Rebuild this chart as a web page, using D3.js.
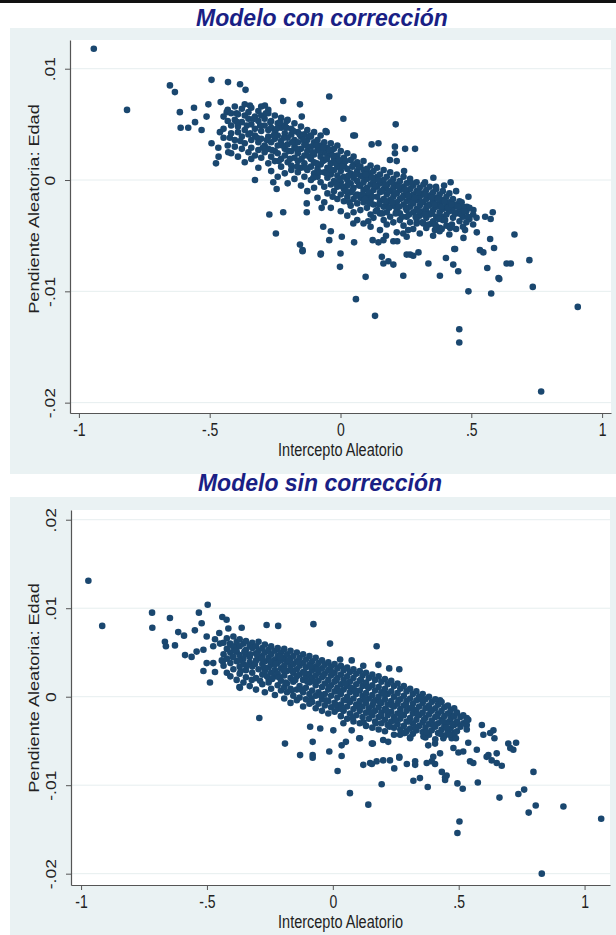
<!DOCTYPE html>
<html><head><meta charset="utf-8">
<script src="https://cdn.jsdelivr.net/npm/d3@7"></script>
<style>body{margin:0;background:#fff}svg{display:block}</style>
</head><body><svg id="c" width="616" height="935"></svg>
<script>
const titles = ["Modelo con corrección", "Modelo sin corrección"];
const xAxisTitle = "Intercepto Aleatorio";
const yAxisTitle = "Pendiente Aleatoria: Edad";
const xTicks = [-1, -0.5, 0, 0.5, 1];
const xTickLabels = ["-1", "-.5", "0", ".5", "1"];
const yTicksCon = [-0.02, -0.01, 0, 0.01];
const yTickLabelsCon = ["-.02", "-.01", "0", ".01"];
const yTicksSin = [-0.02, -0.01, 0, 0.01, 0.02];
const yTickLabelsSin = ["-.02", "-.01", "0", ".01", ".02"];

// Modelo con corrección: scattered points [intercepto, pendiente]
const conSpread = [
[-0.943,0.0118],[-0.816,0.0063],[-0.652,0.0085],[-0.633,0.0079],[-0.493,0.0090],[-0.430,0.0088],[-0.384,0.0086],[-0.363,0.0081],
[-0.614,0.0061],[-0.560,0.0065],[-0.505,0.0068],[-0.458,0.0070],[-0.611,0.0047],[-0.582,0.0047],[-0.556,0.0052],[-0.531,0.0045],
[-0.512,0.0057],[-0.493,0.0033],[-0.467,0.0029],[-0.476,0.0015],[-0.466,0.0021],[-0.429,0.0025],[-0.423,0.0038],[-0.461,0.0043],
[-0.435,0.0061],[-0.397,0.0060],[-0.346,0.0067],[-0.289,0.0067],[-0.276,0.0063],[-0.219,0.0071],[-0.155,0.0068],[-0.043,0.0075],
[0.011,0.0055],[0.049,0.0040],[-0.057,0.0044],[-0.206,0.0053],[-0.148,0.0057],[-0.053,0.0043],[0.055,0.0040],[0.119,0.0032],
[0.145,0.0033],[0.211,0.0050],[0.208,0.0030],[0.247,0.0028],[0.285,0.0028],[0.208,0.0024],[0.189,0.0018],[0.215,0.0017],[0.243,0.0008],
[-0.327,0.0000],[-0.257,-0.0002],[-0.244,-0.0008],[-0.272,-0.0031],[-0.219,-0.0029],[-0.247,-0.0048],[-0.155,-0.0058],[-0.145,-0.0063],
[-0.075,-0.0066],[0.000,-0.0066],[-0.002,-0.0078],[-0.129,-0.0021],[-0.129,-0.0029],[-0.072,-0.0025],[-0.066,-0.0042],[-0.037,-0.0046],
[-0.043,-0.0054],[0.005,-0.0051],[0.052,-0.0056],[0.049,-0.0039],[0.106,-0.0037],[0.123,-0.0054],[0.145,-0.0056],[0.158,-0.0069],
[0.164,-0.0075],[0.174,-0.0050],[0.183,-0.0073],[0.202,-0.0076],[0.217,-0.0055],[0.202,-0.0055],[0.164,-0.0054],[0.240,-0.0048],
[0.240,-0.0086],[0.096,-0.0087],[0.253,-0.0067],[0.278,-0.0068],[0.298,-0.0065],[0.266,-0.0067],[0.259,-0.0045],[0.291,-0.0039],
[0.330,-0.0029],[0.349,-0.0039],[0.361,-0.0045],[0.380,-0.0043],[0.419,-0.0043],[0.387,-0.0033],[0.406,-0.0025],[0.336,-0.0075],
[0.380,-0.0086],[0.403,-0.0070],[0.431,-0.0076],[0.450,-0.0082],[0.435,-0.0062],[0.438,-0.0062],[0.470,-0.0052],[0.476,-0.0045],
[0.489,-0.0100],[0.576,-0.0102],[0.521,-0.0047],[0.572,-0.0053],[0.587,-0.0061],[0.533,-0.0063],[0.546,-0.0065],[0.561,-0.0079],
[0.604,-0.0088],[0.635,-0.0075],[0.651,-0.0075],[0.722,-0.0072],[0.735,-0.0096],[0.665,-0.0049],[0.607,-0.0089],[0.907,-0.0114],
[0.059,-0.0107],[0.132,-0.0122],[0.454,-0.0134],[0.454,-0.0146],[0.767,-0.0190],[-0.076,-0.0067],[-0.145,-0.0064],
[0.323,-0.0002],[0.355,0.0002],[0.365,-0.0006],[0.396,-0.0005],[0.421,-0.0002],[0.442,-0.0010],[0.463,-0.0020],[0.489,-0.0015],
[0.483,-0.0024],[0.508,-0.0027],[0.553,-0.0033],[0.582,-0.0029],[0.574,-0.0035],[0.345,-0.0014]
];
// Modelo con corrección: dense central band, as [intercepto, [pendientes]]
const conCore = [
[-0.447,[0.0057,0.0046,0.0038]],[-0.431,[0.0063,0.0053,0.0031]],[-0.418,[0.0060,0.0049,0.0042,0.0024]],
[-0.404,[0.0066,0.0054,0.0036,0.0030]],[-0.392,[0.0059,0.0048,0.0043,0.0021]],[-0.377,[0.0064,0.0052,0.0039,0.0028]],
[-0.366,[0.0068,0.0058,0.0045,0.0033,0.0016]],[-0.352,[0.0061,0.0055,0.0041,0.0025]],[-0.341,[0.0065,0.0050,0.0036,0.0029,0.0019]],
[-0.327,[0.0057,0.0046,0.0040,0.0022]],[-0.314,[0.0062,0.0053,0.0034,0.0027,0.0011]],[-0.303,[0.0066,0.0058,0.0044,0.0037,0.0020]],
[-0.290,[0.0055,0.0049,0.0031,0.0025]],[-0.276,[0.0060,0.0045,0.0039,0.0028,0.0015]],[-0.265,[0.0053,0.0047,0.0034,0.0021,0.0008]],
[-0.251,[0.0058,0.0043,0.0037,0.0026,0.0017]],[-0.240,[0.0051,0.0040,0.0031,0.0024,0.0003]],[-0.227,[0.0056,0.0047,0.0035,0.0019,0.0012]],
[-0.213,[0.0049,0.0042,0.0028,0.0022,0.0006]],[-0.202,[0.0054,0.0038,0.0032,0.0016,-0.0003]],[-0.188,[0.0046,0.0041,0.0026,0.0013,0.0009]],
[-0.176,[0.0051,0.0036,0.0030,0.0020,0.0001]],[-0.163,[0.0043,0.0034,0.0024,0.0017,0.0007]],[-0.151,[0.0048,0.0039,0.0028,0.0011,-0.0005]],
[-0.138,[0.0041,0.0032,0.0022,0.0015,0.0003]],[-0.127,[0.0045,0.0036,0.0026,0.0009,-0.0010]],[-0.113,[0.0039,0.0030,0.0019,0.0012,0.0000]],
[-0.101,[0.0043,0.0034,0.0023,0.0016,0.0006,-0.0007]],[-0.088,[0.0036,0.0027,0.0010,0.0003,-0.0016]],[-0.076,[0.0040,0.0031,0.0021,0.0014,-0.0002]],
[-0.062,[0.0034,0.0025,0.0018,0.0007,-0.0006,-0.0020]],[-0.050,[0.0029,0.0022,0.0011,0.0002,-0.0012]],[-0.037,[0.0033,0.0024,0.0015,0.0005,-0.0004,-0.0025]],
[-0.025,[0.0028,0.0019,0.0009,-0.0001,-0.0010]],[-0.012,[0.0031,0.0022,0.0012,0.0004,-0.0006,-0.0017]],[0.001,[0.0026,0.0016,0.0008,-0.0002,-0.0013,-0.0028]],
[0.013,[0.0020,0.0013,0.0003,-0.0008,-0.0019]],[0.026,[0.0024,0.0010,0.0000,-0.0005,-0.0015,-0.0032]],[0.039,[0.0018,0.0006,-0.0003,-0.0011,-0.0023]],
[0.050,[0.0021,0.0014,0.0002,-0.0007,-0.0017,-0.0029]],[0.064,[0.0016,0.0008,-0.0001,-0.0013,-0.0021,-0.0036]],[0.076,[0.0012,0.0004,-0.0005,-0.0016,-0.0027]],
[0.088,[0.0017,0.0009,-0.0002,-0.0009,-0.0020,-0.0039]],[0.101,[0.0010,0.0001,-0.0007,-0.0014,-0.0025]],[0.115,[0.0013,0.0006,-0.0004,-0.0012,-0.0018,-0.0031,-0.0042]],
[0.126,[0.0008,-0.0001,-0.0009,-0.0022,-0.0034]],[0.140,[0.0011,0.0003,-0.0006,-0.0015,-0.0027]],[0.151,[0.0005,-0.0003,-0.0011,-0.0019,-0.0030,-0.0045]],
[0.165,[0.0009,0.0000,-0.0008,-0.0017,-0.0024,-0.0036]],[0.177,[0.0003,-0.0005,-0.0013,-0.0021,-0.0029,-0.0040]],[0.190,[0.0007,-0.0002,-0.0010,-0.0018,-0.0033]],
[0.202,[0.0001,-0.0007,-0.0015,-0.0023,-0.0038]],[0.215,[0.0005,-0.0004,-0.0012,-0.0020,-0.0027,-0.0047]],[0.227,[-0.0001,-0.0009,-0.0017,-0.0030,-0.0036]],
[0.241,[0.0003,-0.0006,-0.0014,-0.0022,-0.0041]],[0.253,[-0.0003,-0.0011,-0.0019,-0.0027,-0.0033,-0.0051]],[0.266,[0.0001,-0.0008,-0.0016,-0.0024,-0.0038]],
[0.278,[-0.0005,-0.0013,-0.0021,-0.0029,-0.0044]],[0.291,[-0.0002,-0.0010,-0.0018,-0.0026,-0.0035]],[0.303,[-0.0007,-0.0015,-0.0023,-0.0032,-0.0048]],
[0.317,[-0.0004,-0.0012,-0.0020,-0.0028,-0.0039]],[0.328,[-0.0009,-0.0017,-0.0025,-0.0034,-0.0043]],[0.341,[-0.0006,-0.0014,-0.0022,-0.0031]],
[0.354,[-0.0011,-0.0019,-0.0027,-0.0037,-0.0050]],[0.366,[-0.0008,-0.0016,-0.0024,-0.0033,-0.0042]],[0.379,[-0.0013,-0.0021,-0.0029,-0.0046]],
[0.391,[-0.0010,-0.0018,-0.0026,-0.0036]],[0.405,[-0.0015,-0.0023,-0.0031,-0.0041]],[0.416,[-0.0012,-0.0020,-0.0028,-0.0049]],
[0.430,[-0.0017,-0.0025,-0.0034]],[0.442,[-0.0022,-0.0030,-0.0044]],[0.455,[-0.0019,-0.0027,-0.0037]],
[0.468,[-0.0024,-0.0033,-0.0042]],[0.481,[-0.0028,-0.0038]],[0.493,[-0.0025,-0.0035]],
[0.507,[-0.0031,-0.0040]],[0.520,[-0.0034]]
];
// Modelo con corrección: extra overlapping points inside the band
const conFill = [
[-0.395,0.0052],[-0.383,0.0035],[-0.358,0.0049],[-0.345,0.0042],[-0.332,0.0055],[-0.319,0.0038],[-0.307,0.0049],[-0.297,0.0029],
[-0.285,0.0060],[-0.281,0.0036],[-0.268,0.0052],[-0.262,0.0027],[-0.255,0.0040],[-0.244,0.0046],[-0.236,0.0017],[-0.231,0.0052],
[-0.222,0.0031],[-0.217,0.0038],[-0.206,0.0047],[-0.199,0.0026],[-0.193,0.0019],[-0.185,0.0034],[-0.180,0.0044],[-0.169,0.0028],
[-0.166,0.0012],[-0.156,0.0041],[-0.149,0.0019],[-0.142,0.0036],[-0.134,0.0011],[-0.131,0.0031],[-0.119,0.0021],[-0.116,0.0040],
[-0.106,0.0025],[-0.104,0.0002],[-0.093,0.0031],[-0.091,0.0015],[-0.079,0.0026],[-0.081,0.0007],[-0.067,0.0017],[-0.065,0.0029],
[-0.054,0.0006],[-0.052,0.0019],[-0.043,0.0027],[-0.040,0.0010],[-0.030,-0.0015],[-0.029,0.0022],[-0.018,0.0015],[-0.015,-0.0003],
[-0.006,0.0018],[-0.004,0.0001],[0.007,0.0012],[0.009,-0.0006],[0.020,0.0017],[0.021,-0.0010],[0.031,0.0004],[0.034,-0.0020],
[0.045,0.0012],[0.046,-0.0009],[0.057,0.0005],[0.059,-0.0014],[0.070,0.0012],[0.071,-0.0005],[0.082,-0.0013],[0.084,0.0003],
[0.094,-0.0017],[0.097,0.0005],[0.108,-0.0011],[0.110,-0.0021],[0.120,0.0002],[0.122,-0.0015],[0.133,-0.0005],[0.135,-0.0028],
[0.146,0.0000],[0.147,-0.0022],[0.158,-0.0010],[0.160,-0.0030],[0.171,-0.0004],[0.173,-0.0019],[0.184,-0.0010],[0.186,-0.0025],
[0.196,-0.0002],[0.198,-0.0020],[0.209,-0.0012],[0.211,-0.0030],[0.222,-0.0006],[0.224,-0.0024],[0.235,-0.0016],[0.236,-0.0033],
[0.247,-0.0009],[0.249,-0.0025],[0.260,-0.0014],[0.262,-0.0031],[0.272,-0.0003],[0.274,-0.0020],[0.285,-0.0016],[0.287,-0.0033],
[0.298,-0.0011],[0.299,-0.0028],[0.310,-0.0020],[0.312,-0.0038],[0.322,-0.0013],[0.324,-0.0031],[0.335,-0.0023],[0.337,-0.0040],
[0.348,-0.0016],[0.350,-0.0030],[0.360,-0.0022],[0.362,-0.0040],[0.373,-0.0017],[0.375,-0.0035],[0.386,-0.0024],[0.387,-0.0044],
[0.398,-0.0019],[0.400,-0.0036],[0.411,-0.0025],[0.424,-0.0022],[0.426,-0.0040],[0.437,-0.0030],[0.449,-0.0024],[0.461,-0.0031],
[0.474,-0.0028],[0.486,-0.0033]
];

// Modelo sin corrección: scattered points
const sinSpread = [
[-0.971,0.0131],[-0.916,0.0080],[-0.718,0.0095],[-0.717,0.0078],[-0.647,0.0089],[-0.497,0.0104],[-0.532,0.0095],[-0.439,0.0090],
[-0.422,0.0087],[-0.362,0.0078],[-0.263,0.0081],[-0.217,0.0080],[-0.077,0.0082],[-0.011,0.0060],[-0.667,0.0062],[-0.663,0.0057],
[-0.627,0.0058],[-0.614,0.0073],[-0.591,0.0069],[-0.548,0.0075],[-0.521,0.0083],[-0.587,0.0047],[-0.561,0.0045],[-0.541,0.0051],
[-0.514,0.0053],[-0.501,0.0038],[-0.475,0.0038],[-0.514,0.0029],[-0.468,0.0028],[-0.488,0.0016],[-0.437,0.0040],[-0.501,0.0068],
[-0.468,0.0065],[-0.451,0.0072],[-0.415,0.0077],[-0.475,0.0057],[-0.448,0.0060],[-0.408,0.0060],[-0.389,0.0057],[-0.371,0.0011],
[-0.292,-0.0024],[-0.369,0.0010],[-0.441,0.0041],[-0.190,-0.0053],[-0.130,-0.0066],[-0.080,-0.0066],[-0.014,-0.0062],[0.035,-0.0067],
[-0.080,-0.0051],[0.121,-0.0077],[0.148,-0.0075],[0.174,-0.0073],[0.200,-0.0072],[0.052,-0.0051],[0.105,-0.0047],[0.159,-0.0053],
[0.029,0.0042],[0.075,0.0041],[0.121,0.0035],[0.174,0.0057],[0.181,0.0036],[0.224,0.0032],[0.264,0.0031],[0.426,-0.0004],
[0.472,-0.0021],[0.532,-0.0024],[0.532,-0.0032],[0.598,-0.0043],[0.638,-0.0038],[0.642,-0.0047],[0.697,-0.0053],[0.728,-0.0052],
[0.717,-0.0060],[0.651,-0.0064],[0.618,-0.0066],[0.671,-0.0078],[0.797,-0.0085],[0.662,-0.0114],[0.737,-0.0110],[0.760,-0.0105],
[0.806,-0.0123],[0.778,-0.0131],[0.916,-0.0124],[1.066,-0.0138],[0.503,-0.0141],[0.495,-0.0154],[0.830,-0.0200],[0.576,-0.0097],
[0.516,-0.0104],[0.495,-0.0098],[0.446,-0.0094],[0.452,-0.0089],[0.377,-0.0102],[0.320,-0.0095],[0.346,-0.0092],[0.194,-0.0099],
[0.141,-0.0122],[0.068,-0.0109],[0.019,-0.0084],[0.244,-0.0081],[0.264,-0.0068],[0.294,-0.0076],[0.327,-0.0077],
[0.373,-0.0075],[0.406,-0.0076],[0.426,-0.0064],[0.479,-0.0058],[0.499,-0.0063],[0.538,-0.0052],[0.572,-0.0060],[-0.080,-0.0069],
[-0.090,-0.0034],[-0.050,-0.0036],[0.002,-0.0038],[0.042,-0.0030],[0.075,-0.0038],[0.035,-0.0055],[0.108,-0.0047],[0.155,-0.0053],
[0.200,-0.0049],[0.220,-0.0051],[0.267,-0.0043],[0.307,-0.0047],[0.360,-0.0045],[0.379,-0.0055],[0.406,-0.0053],[0.439,-0.0047],
[0.472,-0.0047],[0.399,-0.0068],[0.393,-0.0073],[0.327,-0.0073],[0.264,-0.0069],[0.227,-0.0072],[0.155,-0.0076],[0.433,-0.0085],
[0.446,-0.0091],[0.545,-0.0073],[0.558,-0.0075],[0.518,-0.0062],[0.611,-0.0068],[0.631,-0.0072],[0.651,-0.0075],[0.592,-0.0032],
[0.625,-0.0041],[0.705,-0.0058],[0.482,-0.0041],[0.492,-0.0030],[0.538,-0.0026]
];
// Modelo sin corrección: dense central band, as [intercepto, [pendientes]]
const sinCore = [
[-0.434,[0.0061,0.0048,0.0035]],[-0.421,[0.0066,0.0054,0.0043,0.0027]],[-0.407,[0.0059,0.0050,0.0038,0.0023]],
[-0.395,[0.0068,0.0056,0.0045,0.0031]],[-0.382,[0.0062,0.0051,0.0040,0.0019]],[-0.370,[0.0065,0.0057,0.0047,0.0034,0.0026]],
[-0.355,[0.0060,0.0043,0.0037,0.0016]],[-0.345,[0.0063,0.0053,0.0048,0.0030,0.0022]],[-0.330,[0.0058,0.0045,0.0039,0.0012]],
[-0.320,[0.0061,0.0055,0.0034,0.0027]],[-0.305,[0.0057,0.0049,0.0041,0.0021,0.0008]],[-0.295,[0.0062,0.0052,0.0044,0.0031]],
[-0.280,[0.0055,0.0046,0.0037,0.0025,0.0014]],[-0.270,[0.0059,0.0050,0.0040,0.0029,0.0005]],[-0.255,[0.0053,0.0044,0.0033,0.0020,0.0016]],
[-0.245,[0.0057,0.0048,0.0036,0.0027,0.0009]],[-0.230,[0.0052,0.0042,0.0030,0.0023,0.0002]],[-0.219,[0.0055,0.0046,0.0038,0.0026,0.0013]],
[-0.206,[0.0050,0.0041,0.0032,0.0018,0.0007]],[-0.193,[0.0054,0.0044,0.0035,0.0024,0.0011,-0.0002]],[-0.182,[0.0048,0.0039,0.0029,0.0015,0.0005]],
[-0.168,[0.0052,0.0043,0.0034,0.0021,0.0009,-0.0007]],[-0.157,[0.0046,0.0037,0.0027,0.0017,0.0001]],[-0.143,[0.0050,0.0040,0.0031,0.0023,0.0008,-0.0004]],
[-0.132,[0.0044,0.0035,0.0025,0.0012,-0.0001]],[-0.118,[0.0048,0.0038,0.0028,0.0019,0.0005,-0.0011]],[-0.107,[0.0042,0.0033,0.0022,0.0010,-0.0003]],
[-0.093,[0.0046,0.0036,0.0026,0.0016,0.0003,-0.0008]],[-0.082,[0.0040,0.0030,0.0021,0.0007,-0.0006]],[-0.068,[0.0044,0.0034,0.0024,0.0013,0.0001,-0.0013]],
[-0.057,[0.0038,0.0028,0.0018,0.0005,-0.0008]],[-0.043,[0.0041,0.0032,0.0022,0.0011,-0.0003,-0.0016]],[-0.032,[0.0036,0.0026,0.0015,0.0003,-0.0010]],
[-0.018,[0.0039,0.0030,0.0019,0.0008,-0.0005,-0.0019]],[-0.007,[0.0034,0.0024,0.0013,0.0001,-0.0012]],[0.007,[0.0037,0.0027,0.0017,0.0006,-0.0007,-0.0017]],
[0.018,[0.0032,0.0021,0.0010,-0.0001,-0.0014]],[0.032,[0.0035,0.0025,0.0014,0.0003,-0.0009,-0.0022]],[0.043,[0.0030,0.0019,0.0008,-0.0004,-0.0016]],
[0.057,[0.0033,0.0023,0.0012,0.0000,-0.0011,-0.0025]],[0.068,[0.0028,0.0017,0.0005,-0.0006,-0.0019]],[0.082,[0.0031,0.0021,0.0009,-0.0002,-0.0014,-0.0028]],
[0.093,[0.0026,0.0014,0.0003,-0.0009,-0.0021]],[0.107,[0.0029,0.0018,0.0007,-0.0005,-0.0016,-0.0030]],[0.118,[0.0024,0.0012,0.0001,-0.0011,-0.0023]],
[0.132,[0.0027,0.0016,0.0004,-0.0007,-0.0018,-0.0033]],[0.143,[0.0021,0.0010,-0.0002,-0.0013,-0.0025]],[0.157,[0.0025,0.0013,0.0002,-0.0010,-0.0021,-0.0035]],
[0.168,[0.0019,0.0007,-0.0004,-0.0016,-0.0028]],[0.182,[0.0023,0.0011,0.0000,-0.0012,-0.0023,-0.0037]],[0.193,[0.0017,0.0005,-0.0007,-0.0018,-0.0030]],
[0.207,[0.0020,0.0009,-0.0003,-0.0014,-0.0026,-0.0039]],[0.218,[0.0014,0.0003,-0.0009,-0.0021,-0.0032]],[0.232,[0.0018,0.0006,-0.0005,-0.0017,-0.0028]],
[0.243,[0.0012,0.0000,-0.0011,-0.0023,-0.0035,-0.0043]],[0.257,[0.0015,0.0004,-0.0008,-0.0019,-0.0031]],[0.268,[0.0009,-0.0003,-0.0014,-0.0025,-0.0037]],
[0.282,[0.0012,0.0001,-0.0010,-0.0021,-0.0033,-0.0041]],[0.293,[0.0006,-0.0005,-0.0016,-0.0028,-0.0039]],[0.307,[0.0009,-0.0002,-0.0013,-0.0024,-0.0036,-0.0046]],
[0.318,[0.0003,-0.0008,-0.0019,-0.0030,-0.0042]],[0.332,[0.0006,-0.0004,-0.0015,-0.0026,-0.0038]],[0.343,[0.0000,-0.0011,-0.0021,-0.0033]],
[0.357,[0.0003,-0.0007,-0.0018,-0.0029,-0.0040]],[0.368,[-0.0003,-0.0013,-0.0024,-0.0035,-0.0046]],[0.382,[0.0000,-0.0010,-0.0020,-0.0031,-0.0043]],
[0.393,[-0.0006,-0.0016,-0.0027,-0.0038]],[0.407,[-0.0003,-0.0013,-0.0023,-0.0034,-0.0048]],[0.418,[-0.0009,-0.0019,-0.0030,-0.0041]],
[0.432,[-0.0006,-0.0016,-0.0026,-0.0037]],[0.443,[-0.0012,-0.0022,-0.0033,-0.0044]],[0.457,[-0.0010,-0.0019,-0.0029,-0.0040]],
[0.468,[-0.0015,-0.0025,-0.0036]],[0.482,[-0.0013,-0.0022,-0.0032,-0.0043]],[0.493,[-0.0018,-0.0028,-0.0039]],
[0.507,[-0.0023,-0.0034]],[0.518,[-0.0021,-0.0030]],[0.532,[-0.0027,-0.0037]]
];
// Modelo sin corrección: extra overlapping points inside the band
const sinFill = [
[-0.398,0.0045],[-0.386,0.0052],[-0.373,0.0041],[-0.366,0.0029],[-0.351,0.0051],[-0.343,0.0035],[-0.327,0.0048],[-0.322,0.0019],
[-0.309,0.0037],[-0.301,0.0047],[-0.289,0.0018],[-0.284,0.0043],[-0.273,0.0033],[-0.262,0.0023],[-0.249,0.0040],[-0.241,0.0020],
[-0.228,0.0037],[-0.214,0.0022],[-0.209,0.0045],[-0.196,0.0030],[-0.188,0.0016],[-0.176,0.0041],[-0.163,0.0007],[-0.160,0.0029],
[-0.149,0.0019],[-0.136,0.0039],[-0.126,0.0008],[-0.113,0.0027],[-0.101,0.0017],[-0.089,0.0034],[-0.085,-0.0002],[-0.072,0.0017],
[-0.061,0.0031],[-0.050,0.0002],[-0.038,0.0024],[-0.027,-0.0004],[-0.015,0.0011],[-0.004,0.0028],[0.010,-0.0009],[0.014,0.0019],
[0.027,0.0006],[0.036,-0.0014],[0.049,0.0015],[0.061,-0.0004],[0.072,0.0010],[0.079,-0.0024],[0.089,0.0007],[0.101,-0.0011],
[0.111,0.0019],[0.122,-0.0029],[0.128,-0.0003],[0.139,0.0011],[0.148,-0.0018],[0.161,-0.0007],[0.171,-0.0030],[0.186,-0.0006],
[0.191,-0.0022],[0.203,0.0003],[0.214,-0.0016],[0.226,-0.0034],[0.236,-0.0010],[0.249,-0.0027],[0.261,-0.0004],[0.270,-0.0019],
[0.286,-0.0041],[0.290,-0.0009],[0.302,-0.0028],[0.316,-0.0013],[0.328,-0.0035],[0.336,-0.0020],[0.351,-0.0003],[0.362,-0.0026],
[0.372,-0.0040],[0.389,-0.0015],[0.401,-0.0032],[0.414,-0.0022],[0.427,-0.0042],[0.438,-0.0028],[0.451,-0.0035],[0.463,-0.0043],
[0.476,-0.0031],[0.489,-0.0047]
];

const FONT = "'Liberation Sans', Arial, sans-serif";
const STRETCH = 1.25;
const svg = d3.select("#c");
svg.append("rect").attr("x",0).attr("y",0).attr("width",616).attr("height",3).attr("fill","#111");

const flatten = cols => cols.flatMap(([x, ys]) => ys.map(y => [x, y]));

function panel(cfg) {
  const g = svg.append("g");
  g.append("rect").attr("x",cfg.bg[0]).attr("y",cfg.bg[1]).attr("width",cfg.bg[2]).attr("height",cfg.bg[3]).attr("fill","#eaf2f3");
  g.append("text").attr("x",cfg.titleX).attr("y",cfg.titleY).attr("text-anchor","middle")
    .attr("font-family",FONT).attr("font-weight","bold").attr("font-style","italic").attr("font-size",23)
    .attr("fill","#1a1f85").text(cfg.title);
  const [x0,x1] = cfg.xr, [y0,y1] = cfg.yr;
  g.append("rect").attr("x",x0).attr("y",y1).attr("width",x1-x0).attr("height",y0-y1).attr("fill","#fff");
  const x = d3.scaleLinear().domain(cfg.xd).range(cfg.xr);
  const y = d3.scaleLinear().domain(cfg.yd).range(cfg.yr);
  g.append("g").selectAll("line").data(cfg.yTicks).join("line")
    .attr("x1",x0).attr("x2",x1).attr("y1",d=>y(d)).attr("y2",d=>y(d))
    .attr("stroke","#e6eeef").attr("stroke-width",1);
  g.append("g").selectAll("circle").data(cfg.data).join("circle")
    .attr("cx",d=>x(d[0])).attr("cy",d=>y(d[1])).attr("r",3.3).attr("fill","#1a476f");
  const ya = g.append("g").attr("transform",`translate(${x0},0)`)
    .call(d3.axisLeft(y).tickValues(cfg.yTicks).tickSize(5).tickSizeOuter(0).tickFormat((d,i)=>cfg.yLabels[i]));
  ya.select(".domain").attr("stroke","#555").attr("stroke-width",1.2);
  ya.selectAll(".tick line").attr("stroke","#555");
  ya.selectAll(".tick text").attr("x",null).attr("dy",null).attr("y",null)
    .attr("transform",`translate(-15,0) scale(1,${STRETCH}) rotate(-90)`)
    .attr("text-anchor","middle").attr("font-family",FONT).attr("font-size",14).attr("fill","#222");
  const xa = g.append("g").attr("transform",`translate(0,${y0})`)
    .call(d3.axisBottom(x).tickValues(xTicks).tickSize(5).tickSizeOuter(0).tickFormat((d,i)=>xTickLabels[i]));
  xa.select(".domain").attr("stroke","#555").attr("stroke-width",1.2);
  xa.selectAll(".tick line").attr("stroke","#555");
  xa.selectAll(".tick text").attr("y",null).attr("dy","0.72em")
    .attr("transform",`translate(0,10) scale(1,${STRETCH})`)
    .attr("font-family",FONT).attr("font-size",14).attr("fill","#222");
  g.append("text").attr("transform",`translate(${(x0+x1)/2},${y0+30}) scale(1,${STRETCH})`)
    .attr("dy","0.72em").attr("text-anchor","middle").attr("font-family",FONT).attr("font-size",14.5).attr("fill","#222")
    .text(xAxisTitle);
  g.append("text").attr("transform",`translate(39,${cfg.yTitleY}) scale(1,${STRETCH}) rotate(-90)`)
    .attr("text-anchor","middle").attr("font-family",FONT).attr("font-size",14.5).attr("fill","#222")
    .text(yAxisTitle);
}

panel({title:titles[0], titleX:322, titleY:26, bg:[10,28,606,446],
  xr:[70,611], yr:[413,40], xd:[-1.034,1.034], yd:[-0.02093,0.01258], yTitleY:209,
  yTicks:yTicksCon, yLabels:yTickLabelsCon, data:conSpread.concat(flatten(conCore), conFill)});
panel({title:titles[1], titleX:320, titleY:491, bg:[10,497,606,438],
  xr:[71,610], yr:[885,510], xd:[-1.04,1.101], yd:[-0.02128,0.0211], yTitleY:688,
  yTicks:yTicksSin, yLabels:yTickLabelsSin, data:sinSpread.concat(flatten(sinCore), sinFill)});
</script></body></html>
